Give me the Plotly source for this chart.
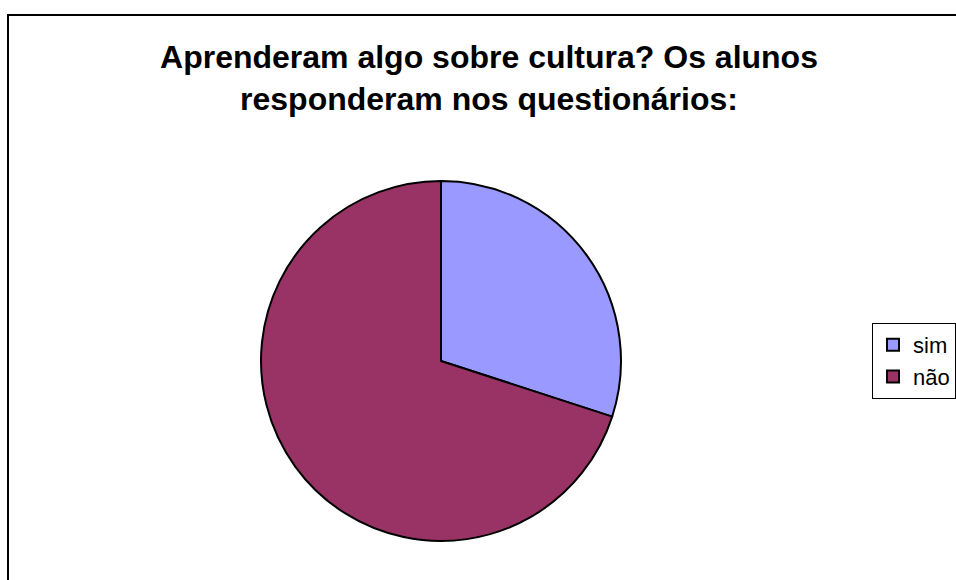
import plotly.graph_objects as go

labels = ['sim', 'não']
values = [30, 70]
colors = ['#9999FF', '#993366']

W, H = 956, 580

fig = go.Figure()

fig.add_trace(
    go.Pie(
        labels=labels,
        values=values,
        sort=False,
        direction='clockwise',
        rotation=0,
        textinfo='none',
        marker=dict(
            colors=colors,
            line=dict(color='black', width=2),
        ),
        domain=dict(
            x=[261 / W, 621 / W],
            y=[1 - 541 / H, 1 - 181 / H],
        ),
    ),
)

fig.update_layout(
    title=dict(
        text='<b>Aprenderam algo sobre cultura? Os alunos<br>responderam nos questionários:</b>',
        x=489 / W,
        xanchor='center',
        y=1 - 68 / H,
        yanchor='top',
        font=dict(family='Liberation Sans', size=32, color='black'),
    ),
    legend=dict(
        x=872 / W,
        y=1 - 361 / H,
        xanchor='left',
        yanchor='middle',
        bordercolor='black',
        borderwidth=1,
        font=dict(family='Liberation Sans', size=22, color='black'),
    ),
    shapes=[
        dict(
            type='rect',
            xref='paper',
            yref='paper',
            x0=8 / W,
            x1=1.05,
            y0=-0.05,
            y1=1 - 15 / H,
            line=dict(color='black', width=2),
        ),
    ],
    width=W,
    height=H,
    margin=dict(l=0, r=0, t=0, b=0),
    paper_bgcolor='white',
    plot_bgcolor='white',
)

# drop the default 8px body margin so the chart fills the window
fig.write_html(
    'out.html',
    config={'displayModeBar': False},
    post_script="document.body.style.margin = '0';",
)
